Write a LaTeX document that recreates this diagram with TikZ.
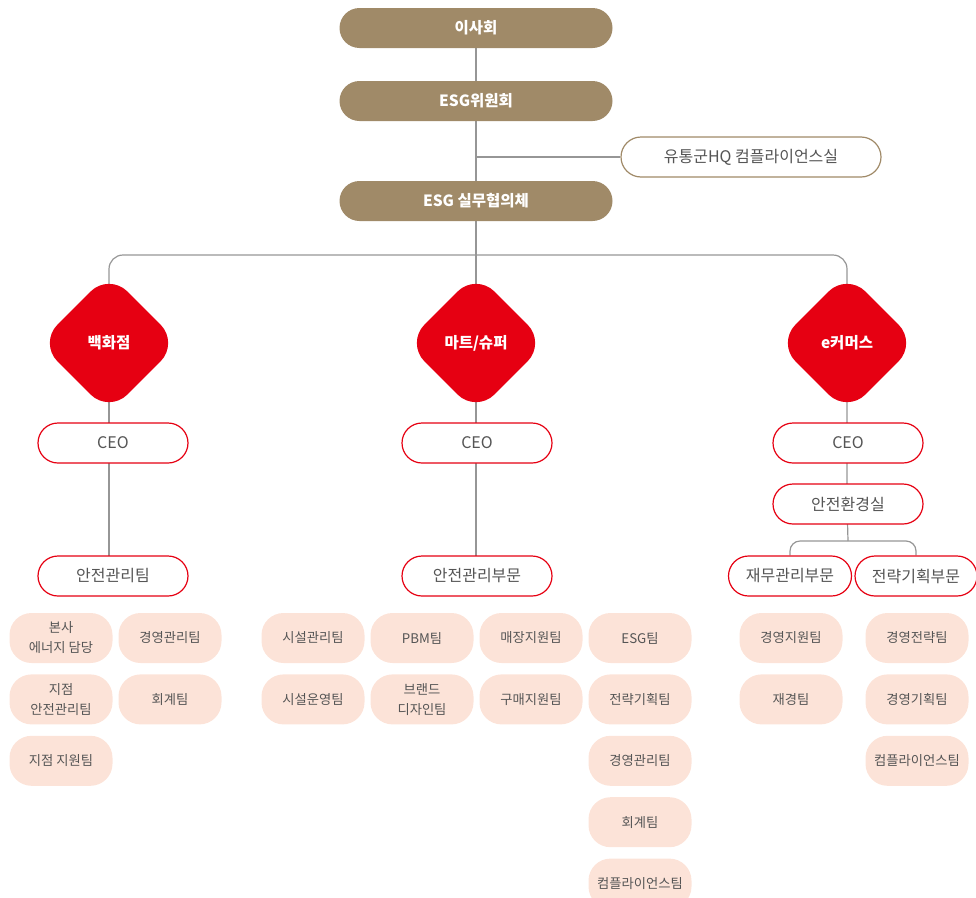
\documentclass[tikz,border=0pt]{standalone}
\usepackage{fontspec}
\setmainfont{Noto Sans CJK KR}
\usetikzlibrary{shapes.geometric,positioning,backgrounds}
\definecolor{esgbrown}{RGB}{160,138,104}
\definecolor{lotred}{RGB}{230,0,18}
\definecolor{teampeach}{RGB}{252,227,216}
\definecolor{linegray}{RGB}{150,150,150}
\definecolor{textgray}{RGB}{85,85,85}

\begin{document}
\begin{tikzpicture}[
    x=1pt, y=-1pt,
    board/.style={rectangle, rounded corners=20pt, fill=esgbrown, text=white, font=\bfseries\fontsize{15.5}{18}\selectfont, minimum width=273pt, minimum height=40pt},
    hqbox/.style={rectangle, rounded corners=20pt, draw=esgbrown, line width=1.2pt, fill=white, text=textgray, font=\fontsize{16}{19}\selectfont, minimum width=260pt, minimum height=40pt},
    business/.style={diamond, rounded corners=26pt, fill=lotred, text=white, font=\bfseries\fontsize{15.5}{18}\selectfont, minimum width=140pt, minimum height=140pt, inner sep=0pt},
    unit/.style={rectangle, rounded corners=20pt, draw=lotred, line width=1.2pt, fill=white, text=textgray, font=\fontsize{16}{19}\selectfont, minimum width=150pt, minimum height=40pt},
    team/.style={rectangle, rounded corners=22pt, fill=teampeach, text=textgray, font=\fontsize{13.3}{20}\selectfont, minimum width=103pt, minimum height=50pt, align=center, inner sep=2pt},
    link/.style={draw=linegray, line width=1.2pt}
]
    \useasboundingbox (0,0) rectangle (976,897);
    \clip (0,0) rectangle (976,897);

    % Governance
    \node[board] (board) at (476,28) {이사회};
    \node[board] (esgcom) at (476,101) {ESG위원회};
    \node[board] (esgwork) at (476,201) {ESG 실무협의체};
    \node[hqbox] (hq) at (751,157) {유통군HQ 컴플라이언스실};

    % Business units
    \node[business] (dept) at (109,343) {백화점};
    \node[business] (mart) at (476,343) {마트/슈퍼};
    \node[business] (ecom) at (847,343) {e커머스};

    % CEO and safety organisations
    \node[unit] (deptceo) at (113,443) {CEO};
    \node[unit] (martceo) at (477,443) {CEO};
    \node[unit] (ecomceo) at (848,443) {CEO};
    \node[unit] (deptsafe) at (113,576) {안전관리팀};
    \node[unit] (martsafe) at (477,576) {안전관리부문};
    \node[unit] (ecomsafe) at (848,504) {안전환경실};
    \node[unit, minimum width=123pt] (ecomfin) at (790,576) {재무관리부문};
    \node[unit, minimum width=122pt] (ecomplan) at (916,576) {전략기획부문};

    % Department store teams
    \node[team] (deptenergy) at (61,638) {본사\\에너지 담당};
    \node[team, below=11pt of deptenergy] (deptbranch) {지점\\안전관리팀};
    \node[team, below=11pt of deptbranch] (deptsupport) {지점 지원팀};
    \node[team] (deptmgmt) at (170,638) {경영관리팀};
    \node[team, below=11pt of deptmgmt] (deptacct) {회계팀};

    % Mart / super teams
    \node[team] (martfac) at (313,638) {시설관리팀};
    \node[team, below=11pt of martfac] (martops) {시설운영팀};
    \node[team] (martpbm) at (422,638) {PBM팀};
    \node[team, below=11pt of martpbm] (martbrand) {브랜드\\디자인팀};
    \node[team] (martstore) at (531,638) {매장지원팀};
    \node[team, below=11pt of martstore] (martbuy) {구매지원팀};
    \node[team] (martesg) at (640,638) {ESG팀};
    \node[team, below=11pt of martesg] (martplan) {전략기획팀};
    \node[team, below=11pt of martplan] (martmgmt) {경영관리팀};
    \node[team, below=11pt of martmgmt] (martacct) {회계팀};
    \node[team, below=11pt of martacct] (martcomp) {컴플라이언스팀};

    % e-commerce teams
    \node[team] (ecomsupport) at (791,638) {경영지원팀};
    \node[team, below=11pt of ecomsupport] (ecomfinance) {재경팀};
    \node[team] (ecomstrat) at (917,638) {경영전략팀};
    \node[team, below=11pt of ecomstrat] (ecomplanning) {경영기획팀};
    \node[team, below=11pt of ecomplanning] (ecomcomp) {컴플라이언스팀};

    % Connectors
    \coordinate (branch) at (476,255);
    \coordinate (ecomsplit) at (848,541);
    \begin{scope}[on background layer]
        \draw[link] (board.center) -- (esgcom.center) -- (esgwork.center) -- (mart.center);
        \draw[link] (esgcom.center |- hq.west) -- (hq.west);
        \draw[link, rounded corners=14pt] (dept.center) |- (branch) -| (ecom.center);
        \draw[link] (dept.center) -- (dept.center |- deptsafe.center);
        \draw[link] (mart.center) -- (mart.center |- martsafe.center);
        \draw[link] (ecom.center) -- (ecom.center |- ecomsafe.center) -- (ecomsplit);
        \draw[link, rounded corners=10pt] (ecomfin.north) |- (ecomsplit) -| (ecomplan.north);
    \end{scope}
\end{tikzpicture}
\end{document}
